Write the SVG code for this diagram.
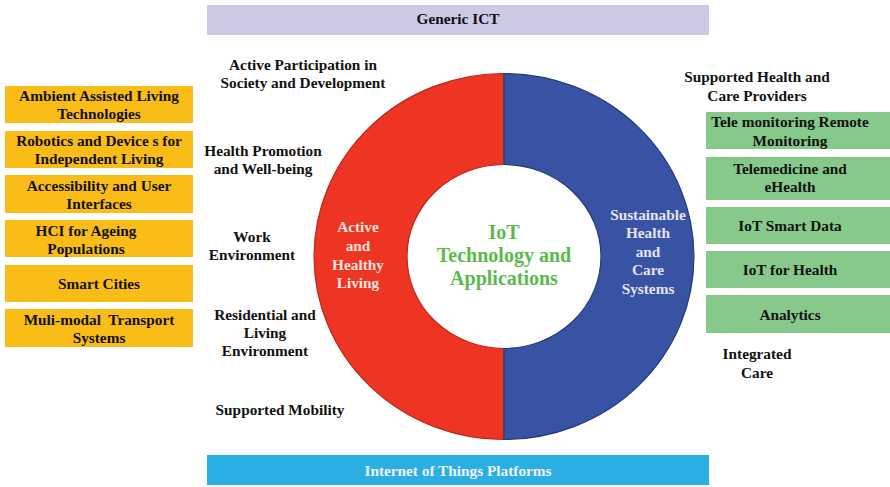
<svg xmlns="http://www.w3.org/2000/svg" width="890" height="487" viewBox="0 0 890 487">
<style>
text{font-family:"Liberation Serif","Times New Roman",serif;font-weight:bold;font-size:15.3px;text-anchor:middle;fill:#111}
.orange{fill:#FABD18}
.green{fill:#86C98A}
.w{fill:#FBE3DE}
.lw{fill:#E4E4F2}
.ctr{fill:#5DB94E;font-size:20px}
</style>
<rect width="890" height="487" fill="#fff"/>
<g id="generic-ict" font-family="Liberation Serif">
<rect x="207" y="5" width="502" height="30" fill="#CCCAE4"/>
<text x="458" y="24">Generic ICT</text>
</g>
<g id="iot-platforms" font-family="Liberation Serif">
<rect x="207" y="455" width="502" height="30" fill="#2BAFE3"/>
<text x="458" y="476" style="fill:#F2F2FA">Internet of Things Platforms</text>
</g>
<g id="ring" font-family="Liberation Serif">
<path d="M504,73.5 A190,183 0 0 0 504,439.5 L504,348.5 A97,92 0 0 1 504,164.5 Z" fill="#EE3524" stroke="#B8261A" stroke-width="1.2"/>
<path d="M504,73.5 A190,183 0 0 1 504,439.5 L504,348.5 A97,92 0 0 0 504,164.5 Z" fill="#3953A4" stroke="#26397A" stroke-width="1.2"/>
<text class="w" x="358" y="232">Active</text>
<text class="w" x="358" y="251">and</text>
<text class="w" x="358" y="270">Healthy</text>
<text class="w" x="358" y="288">Living</text>
<text class="lw" x="648" y="220">Sustainable</text>
<text class="lw" x="648" y="238">Health</text>
<text class="lw" x="648" y="257">and</text>
<text class="lw" x="648" y="275">Care</text>
<text class="lw" x="648" y="294">Systems</text>
<text class="ctr" x="504" y="239">IoT</text>
<text class="ctr" x="504" y="262">Technology and</text>
<text class="ctr" x="504" y="285">Applications</text>
</g>
<g id="left-boxes" font-family="Liberation Serif">
<rect class="orange" x="5" y="86" width="188" height="37"/>
<text x="99" y="101">Ambient Assisted Living</text>
<text x="99" y="119">Technologies</text>
<rect class="orange" x="5" y="131" width="188" height="37"/>
<text x="99" y="146">Robotics and Device s for</text>
<text x="99" y="164">Independent Living</text>
<rect class="orange" x="5" y="175" width="188" height="38"/>
<text x="99" y="191">Accessibility and User</text>
<text x="99" y="209">Interfaces</text>
<rect class="orange" x="5" y="220" width="188" height="37"/>
<text x="86" y="236">HCI for Ageing</text>
<text x="86" y="254">Populations</text>
<rect class="orange" x="5" y="265" width="188" height="37"/>
<text x="99" y="289">Smart Cities</text>
<rect class="orange" x="5" y="309" width="188" height="38"/>
<text x="99" y="325" xml:space="preserve">Muli-modal  Transport</text>
<text x="99" y="343">Systems</text>
</g>
<g id="left-labels" font-family="Liberation Serif">
<text x="303" y="70">Active Participation in</text>
<text x="303" y="88">Society and Development</text>
<text x="263" y="156">Health Promotion</text>
<text x="263" y="174">and Well-being</text>
<text x="252" y="242">Work</text>
<text x="252" y="260">Environment</text>
<text x="265" y="320">Residential and</text>
<text x="265" y="338">Living</text>
<text x="265" y="356">Environment</text>
<text x="280" y="415">Supported Mobility</text>
</g>
<g id="right-boxes" font-family="Liberation Serif">
<rect class="green" x="706" y="112" width="184" height="37"/>
<text x="790" y="127">Tele monitoring Remote</text>
<text x="790" y="146">Monitoring</text>
<rect class="green" x="706" y="157" width="184" height="43"/>
<text x="790" y="174">Telemedicine and</text>
<text x="790" y="192">eHealth</text>
<rect class="green" x="706" y="207" width="184" height="37"/>
<text x="790" y="231">IoT Smart Data</text>
<rect class="green" x="706" y="251" width="184" height="37"/>
<text x="790" y="275">IoT for Health</text>
<rect class="green" x="706" y="295" width="184" height="38"/>
<text x="790" y="320">Analytics</text>
</g>
<g id="right-labels" font-family="Liberation Serif">
<text x="757" y="82">Supported Health and</text>
<text x="757" y="101">Care Providers</text>
<text x="757" y="359">Integrated</text>
<text x="757" y="378">Care</text>
</g>
<g id="connectors"></g>
</svg>
